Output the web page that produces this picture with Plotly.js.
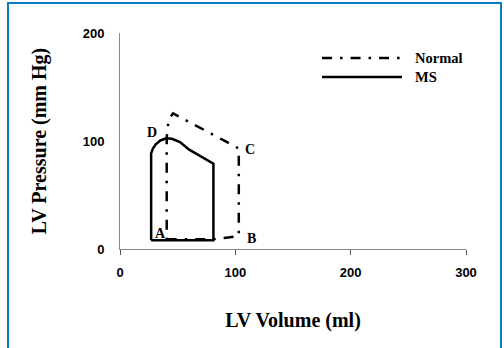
<!DOCTYPE html>
<html>
<head>
<meta charset="utf-8">
<script src="https://cdn.plot.ly/plotly-3.0.1.min.js"></script>
<style>
  html, body { margin: 0; padding: 0; background: #fff; }
  #wrap { position: relative; width: 504px; height: 348px; overflow: hidden; }
  #chart { position: absolute; left: 0; top: 0; width: 504px; height: 348px; }
  #frame { position: absolute; left: 7px; top: 2px; width: 491px; height: 360px;
           border: 2.5px solid #0a7bc0; border-bottom: none; pointer-events: none; }
</style>
</head>
<body>
<div id="wrap">
  <div id="chart"></div>
  <div id="frame"></div>
</div>
<script>
// ---- data ----
const seriesNames = ['Normal', 'MS'];

const normalVolume   = [40.5, 60, 80, 92, 103, 103, 103, 90, 70, 55, 49, 46, 43, 41.5, 40.5, 40.5];
const normalPressure = [9, 9, 9, 10.5, 12, 60, 93, 100.5, 112, 121, 124.5, 125.6, 121, 114, 103, 9];

const msVolume   = [27, 27, 28.5, 31, 35, 40, 45, 52, 60, 70, 81, 81, 27];
const msPressure = [8, 88.5, 93, 97, 100.5, 102.5, 102, 99, 92, 86, 79, 8, 8];

const pointLabels   = ['A', 'B', 'C', 'D'];
const pointVolume   = [34.7, 114, 112.5, 27.7];
const pointPressure = [14, 10, 92, 107.5];

const xTickVals = [0, 100, 200, 300];
const yTickVals = [0, 100, 200];

const normalDash = '10px,8px,2.5px,8px';
const serifBold = {family: 'Liberation Serif, Times New Roman, serif', weight: 'bold', color: '#000'};

const traces = [
  {x: normalVolume, y: normalPressure, name: seriesNames[0], mode: 'lines',
   line: {color: '#000', width: 2.5, dash: normalDash}, showlegend: false},
  {x: msVolume, y: msPressure, name: seriesNames[1], mode: 'lines',
   line: {color: '#000', width: 2.5}, showlegend: false}
];

const annotations = pointLabels.map((t, i) => ({
  x: pointVolume[i], y: pointPressure[i], xref: 'x', yref: 'y', text: t,
  showarrow: false, xanchor: 'center', yanchor: 'middle',
  font: Object.assign({size: 14}, serifBold)
}));

// legend (drawn manually so the line samples are as long as in the reference)
const legendRows = [0.884, 0.796];
const legendDash = [normalDash, 'solid'];
const shapes = legendRows.map((yy, i) => ({
  type: 'line', xref: 'paper', yref: 'paper', x0: 0.584, x1: 0.815, y0: yy, y1: yy,
  line: {color: '#000', width: 2.5, dash: legendDash[i]}
}));
legendRows.forEach((yy, i) => annotations.push({
  x: 0.847, y: yy, xref: 'paper', yref: 'paper', text: seriesNames[i],
  showarrow: false, xanchor: 'left', yanchor: 'middle',
  font: Object.assign({size: 14.5}, serifBold)
}));

const layout = {
  width: 504, height: 348,
  margin: {l: 120, r: 38, t: 33, b: 99},
  paper_bgcolor: 'rgba(0,0,0,0)', plot_bgcolor: 'rgba(0,0,0,0)',
  showlegend: false,
  xaxis: {
    range: [0, 300], tickvals: xTickVals, ticktext: xTickVals.map(String),
    showgrid: false, zeroline: false, showline: true, linecolor: '#8a8a8a', linewidth: 1,
    ticks: 'outside', ticklen: 5, tickcolor: '#555', tickwidth: 1,
    ticklabelstandoff: 6,
    tickfont: {family: 'Liberation Sans, Arial, sans-serif', size: 13, weight: 'bold', color: '#000'},
    title: {text: 'LV Volume (ml)', standoff: 34, font: Object.assign({size: 20}, serifBold)}
  },
  yaxis: {
    range: [0, 200], tickvals: yTickVals, ticktext: yTickVals.map(String),
    showgrid: false, zeroline: false, showline: true, linecolor: '#8a8a8a', linewidth: 1,
    ticks: '',
    ticklabelstandoff: 12,
    tickfont: {family: 'Liberation Sans, Arial, sans-serif', size: 13, weight: 'bold', color: '#000'},
    title: {text: 'LV Pressure (mm Hg)', standoff: 30, font: Object.assign({size: 20}, serifBold)}
  },
  annotations: annotations,
  shapes: shapes
};

Plotly.newPlot('chart', traces, layout, {displayModeBar: false, staticPlot: true});
</script>
</body>
</html>
